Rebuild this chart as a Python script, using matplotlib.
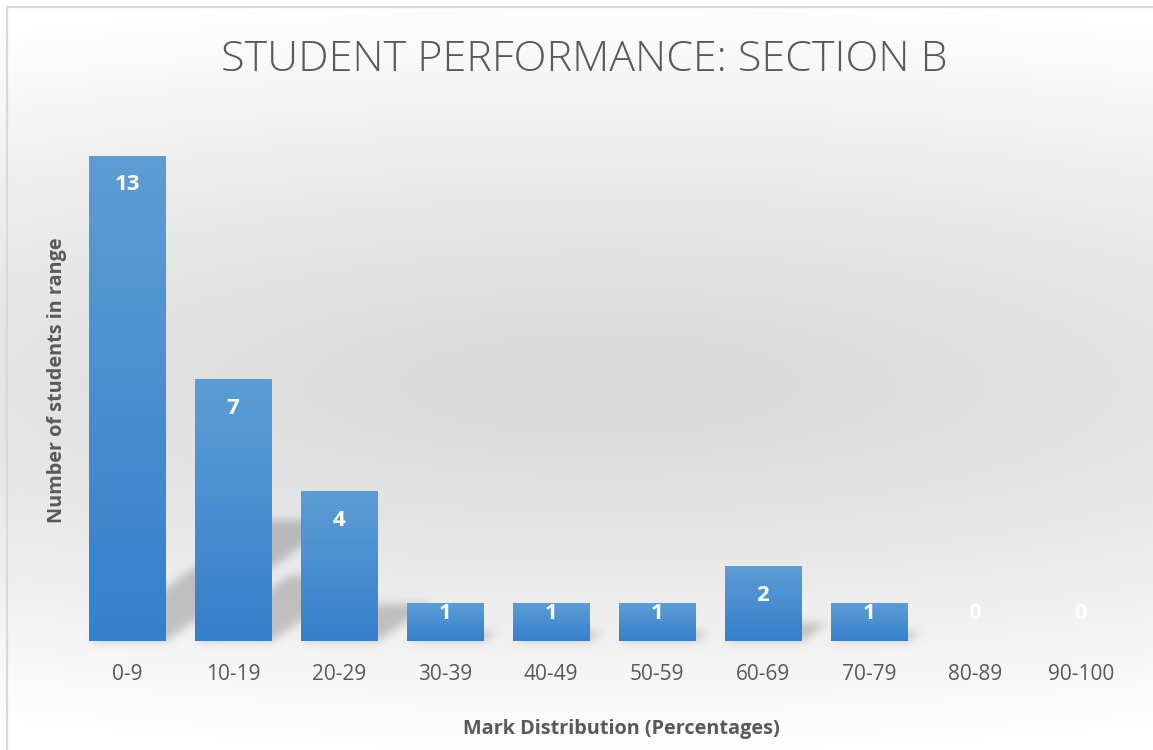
import numpy as np
import matplotlib
matplotlib.use("Agg")
import matplotlib.pyplot as plt
from matplotlib.path import Path
from matplotlib.colors import LinearSegmentedColormap

# Mark ranges and head counts
categories = ["0-9", "10-19", "20-29", "30-39", "40-49",
              "50-59", "60-69", "70-79", "80-89", "90-100"]
counts = [13, 7, 4, 1, 1, 1, 2, 1, 0, 0]

title = "STUDENT PERFORMANCE: SECTION B"
x_title = "Mark Distribution (Percentages)"
y_title = "Number of students in range"

TEXT = "#595959"
FONT = "Open Sans"
W, H, DPI = 1153, 750, 100

plt.rcParams["font.family"] = [FONT, "DejaVu Sans"]

fig = plt.figure(figsize=(W / DPI, H / DPI), dpi=DPI)

# background axes spanning the whole figure
bg_ax = fig.add_axes([0, 0, 1, 1], zorder=0)
bg_ax.set_axis_off()

# plot axes
ax = fig.add_axes([74 / W, (H - 640.7) / H, (1134 - 74) / W, (640.7 - 118.5) / H],
                  zorder=1)
ax.patch.set_alpha(0)
x = np.arange(len(categories))
bars = ax.bar(x, counts, width=0.725, color="none", edgecolor="none")
ax.set_xlim(-0.5, len(categories) - 0.5)
ax.set_ylim(0, 14)
for s in ax.spines.values():
    s.set_visible(False)
ax.set_yticks([])
ax.set_xticks(x)
ax.set_xticklabels(categories, fontsize=15, color=TEXT)
ax.tick_params(axis="x", length=0, pad=17)

# vertical blue gradient inside each bar
bar_cmap = LinearSegmentedColormap.from_list(
    "barfill", [(0.0, "#3480ca"), (1.0, "#5d9dd6")])
grad = np.linspace(0, 1, 256).reshape(-1, 1)
for p in bars:
    if p.get_height() <= 0:
        continue
    ax.imshow(grad, cmap=bar_cmap, origin="lower", aspect="auto",
              extent=[p.get_x(), p.get_x() + p.get_width(), 0, p.get_height()],
              zorder=2, interpolation="bilinear")
ax.set_xlim(-0.5, len(categories) - 0.5)
ax.set_ylim(0, 14)

# value labels near the top of each bar
for xi, v in zip(x, counts):
    ax.text(xi, max(v - 0.78, 0.74), str(v), ha="center", va="center",
            color="white", fontsize=16, fontweight="bold", zorder=3)

# background: soft grey centre fading to white, plus the bars' cast shadows
yy, xx = np.mgrid[0:H, 0:W].astype(float)
cy, cx = 385.0, 600.0
ry = np.where(yy < cy, 385.0, 365.0)
r = np.sqrt(((xx - cx) / 1500.0) ** 2 + ((yy - cy) / ry) ** 2)
shade = 217 + (255 - 217) * np.clip(r, 0, 1) ** 1.25

mask = np.zeros((H, W))
pts = np.column_stack([xx.ravel(), yy.ravel()])
for p in bars:
    hgt = p.get_height()
    if hgt <= 0:
        continue
    (x0, b0), (x1, t0) = ax.transData.transform(
        [(p.get_x(), 0), (p.get_x() + p.get_width(), hgt)])
    # convert to image rows (origin at top)
    base = H - b0
    hpx = t0 - b0
    rise = 0.25 * hpx
    shift = 0.36 * hpx
    poly = Path([(x0, base), (x1, base), (x1 + shift, base - rise),
                 (x0 + shift, base - rise), (x0, base)])
    inside = poly.contains_points(pts).reshape(H, W)
    mask = np.maximum(mask, inside.astype(float))

# separable gaussian blur of the shadow mask
sig = 4.5
k = np.arange(-15, 16)
kern = np.exp(-0.5 * (k / sig) ** 2)
kern /= kern.sum()
mask = np.apply_along_axis(lambda m: np.convolve(m, kern, mode="same"), 1, mask)
mask = np.apply_along_axis(lambda m: np.convolve(m, kern, mode="same"), 0, mask)
shade = shade * (1 - 0.2 * mask)

img = np.dstack([shade, shade, shade]) / 255.0
bg_ax.imshow(img, extent=[0, W, H, 0], aspect="auto", interpolation="bilinear")
bg_ax.set_xlim(0, W)
bg_ax.set_ylim(H, 0)
# chart frame (left and top edges)
bg_ax.plot([7, 7, W], [H, 7, 7], color="#d9d9d9", lw=1.6, solid_capstyle="butt")

# titles
fig.text(584 / W, 1 - 60 / H, title, ha="center", va="center",
         fontsize=31, color=TEXT, fontweight="light")
fig.text(621 / W, 1 - 729 / H, x_title, ha="center", va="center",
         fontsize=14.3, color=TEXT, fontweight="bold")
fig.text(57 / W, 1 - 380 / H, y_title, ha="center", va="center",
         rotation=90, fontsize=14.3, color=TEXT, fontweight="bold")

fig.savefig("out.png", dpi=DPI)
